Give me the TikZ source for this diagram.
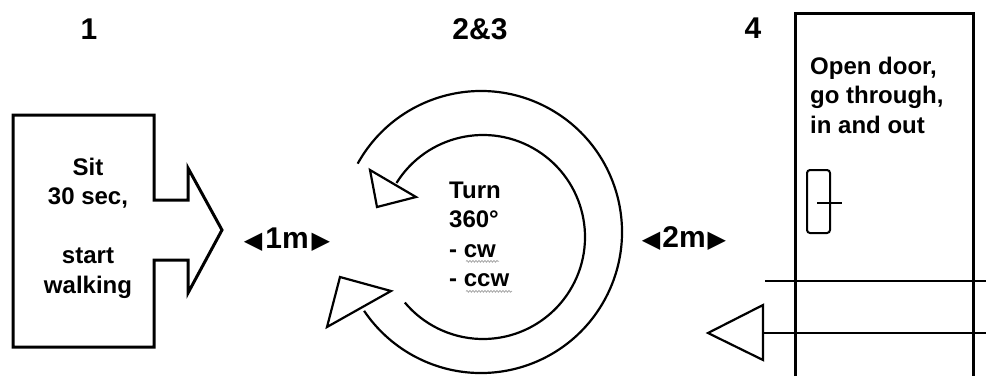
\documentclass[tikz,border=0pt]{standalone}
\usepackage{fontspec}
\setmainfont{Liberation Sans}
\newfontfamily\symfont{DejaVu Sans}
\usetikzlibrary{decorations.pathmorphing}
\newcommand{\ltri}{{\symfont\fontsize{24}{24}\selectfont ◀}}
\newcommand{\rtri}{{\symfont\fontsize{24}{24}\selectfont ▶}}
\tikzset{
  txt/.style={font=\bfseries\fontsize{24}{29.5}\selectfont,inner sep=0pt},
  lbl/.style={font=\bfseries\fontsize{30}{30}\selectfont,inner sep=0pt,anchor=base},
  dist/.style={font=\bfseries\fontsize{30}{30}\selectfont,inner sep=0pt},
  wavy/.style={gray!70,line width=0.8pt,decorate,decoration={snake,amplitude=0.9pt,segment length=3pt}}
}
\begin{document}
\begin{tikzpicture}[x=1pt,y=-1pt]
\useasboundingbox (0,0) rectangle (986,376);
\coordinate[] (A1) at (13,115);
\coordinate[] (A2) at (154,115);
\coordinate[] (A3) at (154,200);
\coordinate[] (A4) at (188,200);
\coordinate[] (A5) at (188,168);
\coordinate[] (A6) at (222,230);
\coordinate[] (A7) at (188,293);
\coordinate[] (A8) at (188,260);
\coordinate[] (A9) at (154,260);
\coordinate[] (A10) at (154,347);
\coordinate[] (A11) at (13,347);
\coordinate[] (B1) at (481,232);
\coordinate[] (B2) at (483,237);
\coordinate[] (C1) at (370,170);
\coordinate[] (C2) at (416,197);
\coordinate[] (C3) at (377,207);
\coordinate[] (D1) at (340,277);
\coordinate[] (D2) at (391,291);
\coordinate[] (D3) at (327,327);
\coordinate[] (E1) at (795,376);
\coordinate[] (E2) at (795,13);
\coordinate[] (E3) at (973,13);
\coordinate[] (E4) at (973,376);
\coordinate[] (F1) at (765,281);
\coordinate[] (F2) at (986,281);
\coordinate[] (F3) at (763,333);
\coordinate[] (F4) at (986,333);
\coordinate[] (G1) at (763,305);
\coordinate[] (G2) at (708,333);
\coordinate[] (G3) at (763,360);
\coordinate[] (H1) at (807,170);
\coordinate[] (H2) at (830,233);
\coordinate[] (H3) at (817,203);
\coordinate[] (H4) at (842,203);
\draw[line width=3pt,line join=miter] (A1)--(A2)--(A3)--(A4)--(A5)--(A6)--(A7)--(A8)--(A9)--(A10)--(A11)--cycle;
\draw[line width=2.2pt] (B1) ++(-151:141) arc[start angle=-151,end angle=146,radius=141];
\draw[line width=2.2pt] (B2) ++(-148:102) arc[start angle=-148,end angle=140,radius=102];
\draw[line width=2.2pt,line join=miter] (C1)--(C2)--(C3)--cycle;
\draw[line width=2.2pt,line join=miter] (D1)--(D2)--(D3)--cycle;
\draw[line width=3pt] (E1)--(E2)--(E3)--(E4);
\draw[line width=2.2pt] (F1)--(F2);
\draw[line width=2.2pt] (F3)--(F4);
\draw[line width=2.2pt,line join=miter] (G1)--(G2)--(G3)--cycle;
\draw[line width=2pt,rounded corners=3pt] (H1) rectangle (H2);
\draw[line width=1.6pt] (H3)--(H4);
\node[lbl] (one) at (89,39) {1};
\node[lbl] (twothree) at (480,39) {2\&3};
\node[lbl] (four) at (753,38) {4};
\node[txt,align=center] (sit) at (88,228) {Sit\\30 sec,\\[29.5pt]start\\walking};
\node[txt,align=left,anchor=west] (turn) at (449,234.5) {Turn\\360°\\- cw\\- ccw};
\node[txt,align=left,anchor=west] (door) at (810,95) {Open door,\\go through,\\in and out};
\node[dist] (onem) at (287,240) {\ltri\hspace{3pt}1m\hspace{3pt}\rtri};
\node[dist] (twom) at (684,238) {\ltri\hspace{2pt}2m\hspace{2pt}\rtri};
\draw[wavy] ([shift={(17,-26)}]turn.south west) -- ++(33,0);
\draw[wavy] ([shift={(17,4)}]turn.south west) -- ++(46,0);
\end{tikzpicture}
\end{document}
